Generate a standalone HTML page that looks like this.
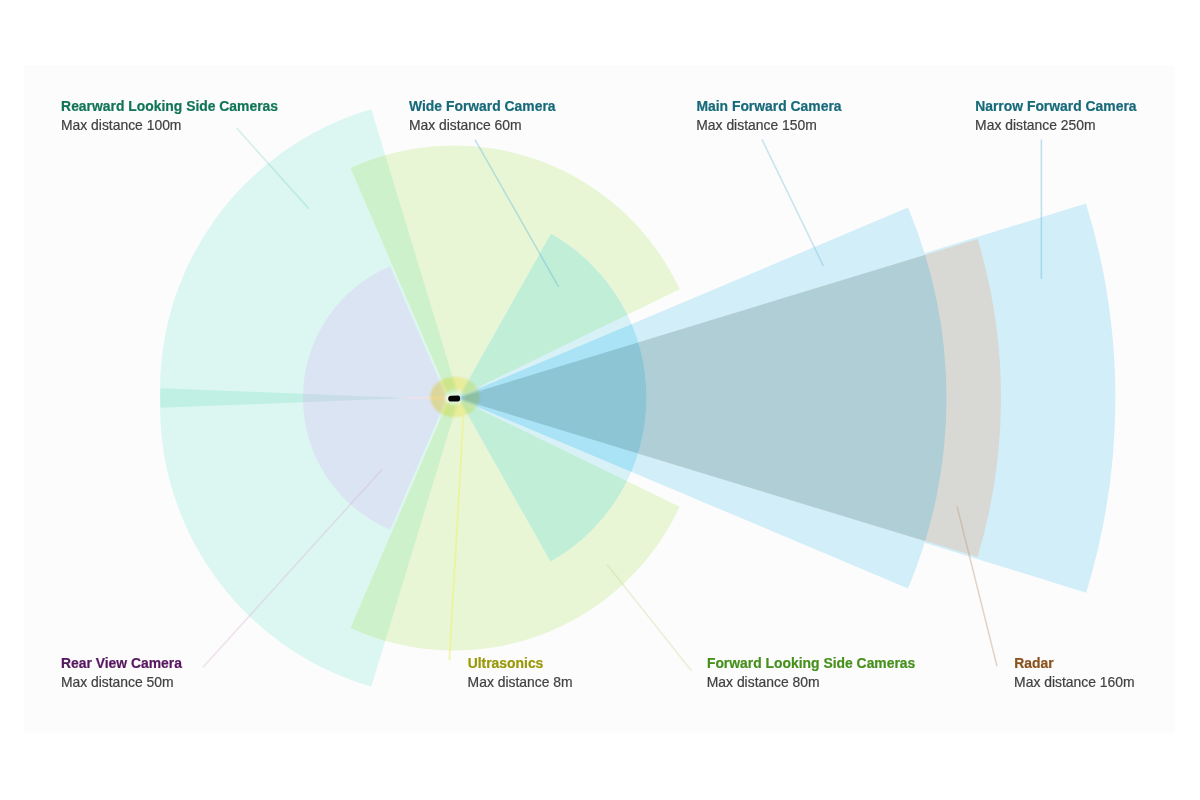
<!DOCTYPE html>
<html><head><meta charset="utf-8"><style>
html,body{margin:0;padding:0;background:#fff;width:1200px;height:800px;overflow:hidden}
svg{display:block}
.t{font-family:"Liberation Sans",sans-serif;font-weight:bold;font-size:13.9px;stroke-width:0.2px}
.s{font-family:"Liberation Sans",sans-serif;font-size:13.9px;fill:#404040;stroke:#404040;stroke-width:0.2px}
</style></head><body>
<svg width="1200" height="800" viewBox="0 0 1200 800">
<defs>
<filter id="blur" x="-10%" y="-10%" width="120%" height="120%"><feGaussianBlur stdDeviation="0.45"/></filter>
<filter id="soft" x="0" y="0" width="100%" height="100%"><feGaussianBlur stdDeviation="0.4"/></filter>
<filter id="blur3" x="-20%" y="-20%" width="140%" height="140%"><feGaussianBlur stdDeviation="1.2"/></filter>
<filter id="blur2" x="-50%" y="-50%" width="200%" height="200%"><feGaussianBlur stdDeviation="1.5"/></filter>
<linearGradient id="ray" x1="395" y1="0" x2="447" y2="0" gradientUnits="userSpaceOnUse">
<stop offset="0" stop-color="#f4e4ea" stop-opacity="0"/><stop offset="0.4" stop-color="#f6e2e6" stop-opacity="0.9"/><stop offset="1" stop-color="#f8e0d0"/></linearGradient>
<linearGradient id="ugl" x1="0" y1="0" x2="1" y2="0">
<stop offset="0" stop-color="#fff09c"/><stop offset="0.4" stop-color="#fff4b0"/><stop offset="1" stop-color="#fff8c6"/></linearGradient>
<radialGradient id="ugm" cx="0.5" cy="0.5" r="0.5">
<stop offset="0" stop-color="#000"/><stop offset="0.28" stop-color="#000"/><stop offset="0.45" stop-color="#fff"/><stop offset="1" stop-color="#fff"/></radialGradient>
<mask id="umask" maskUnits="userSpaceOnUse" x="420" y="370" width="70" height="55"><ellipse cx="455" cy="397" rx="25" ry="20.5" fill="url(#ugm)"/></mask>
<radialGradient id="ug" cx="0.5" cy="0.5" r="0.5">
<stop offset="0" stop-color="#ffffff"/>
<stop offset="0.3" stop-color="#ffffff"/>
<stop offset="0.45" stop-color="#fff8bc"/>
<stop offset="1" stop-color="#fff4aa"/>
</radialGradient>
<path id="pN" d="M456.00,398.00 L1085.96,203.41 A659.8,659.8 0 0 1 1086.13,592.64 L456.00,398.00 Z"/>
<clipPath id="cN"><path d="M456.00,398.00 L1085.96,203.41 A659.8,659.8 0 0 1 1086.13,592.64 L456.00,398.00 Z"/></clipPath>
<path id="pR" d="M456.00,398.00 L977.60,238.97 A552,552 0 0 1 977.60,557.03 L456.00,398.00 Z"/>
<clipPath id="cR"><path d="M456.00,398.00 L977.60,238.97 A552,552 0 0 1 977.60,557.03 L456.00,398.00 Z"/></clipPath>
<path id="pM" d="M456.00,398.00 L907.99,207.59 A490,490 0 0 1 907.99,588.41 L456.00,398.00 Z"/>
<clipPath id="cM"><path d="M456.00,398.00 L907.99,207.59 A490,490 0 0 1 907.99,588.41 L456.00,398.00 Z"/></clipPath>
<path id="pW" d="M458.50,398.00 L550.94,233.80 A188,188 0 0 1 550.51,561.44 L458.50,398.00 Z"/>
<clipPath id="cW"><path d="M458.50,398.00 L550.94,233.80 A188,188 0 0 1 550.51,561.44 L458.50,398.00 Z"/></clipPath>
<path id="pFu" d="M456.00,398.00 L679.71,289.35 A249,249 0 0 0 350.55,168.01 L449.50,398.00 Z"/>
<clipPath id="cFu"><path d="M456.00,398.00 L679.71,289.35 A249,249 0 0 0 350.55,168.01 L449.50,398.00 Z"/></clipPath>
<path id="pFl" d="M456.00,398.00 L679.71,506.65 A249,249 0 0 1 350.55,627.99 L449.50,398.00 Z"/>
<clipPath id="cFl"><path d="M456.00,398.00 L679.71,506.65 A249,249 0 0 1 350.55,627.99 L449.50,398.00 Z"/></clipPath>
<path id="pSu" d="M459.00,398.00 L371.33,109.36 A292,292 0 0 0 160.55,407.87 L459.00,396.00 Z"/>
<clipPath id="cSu"><path d="M459.00,398.00 L371.33,109.36 A292,292 0 0 0 160.55,407.87 L459.00,396.00 Z"/></clipPath>
<path id="pSl" d="M459.00,398.00 L371.33,686.64 A292,292 0 0 1 160.55,388.13 L459.00,400.00 Z"/>
<clipPath id="cSl"><path d="M459.00,398.00 L371.33,686.64 A292,292 0 0 1 160.55,388.13 L459.00,400.00 Z"/></clipPath>
<path id="pV" d="M447.00,398.00 L390.12,266.37 A143,143 0 0 0 390.12,529.63 L447.00,398.00 Z"/>
<clipPath id="cV"><path d="M447.00,398.00 L390.12,266.37 A143,143 0 0 0 390.12,529.63 L447.00,398.00 Z"/></clipPath>
<clipPath id="cUbig"><ellipse cx="455" cy="397" rx="29" ry="24.5"/></clipPath>
<g id="fans">
<use href="#pSu" fill="#dcf7f1"/>
<use href="#pSl" fill="#dcf7f1"/>
<use href="#pSu" fill="#c0f0e4" clip-path="url(#cSl)"/>
<use href="#pFu" fill="#e8f6d6"/>
<use href="#pFl" fill="#e8f6d6"/>
<use href="#pFu" fill="#cdf1cb" clip-path="url(#cSu)"/>
<use href="#pFl" fill="#cdf1cb" clip-path="url(#cSl)"/>
<use href="#pV" fill="#dbe4f3"/>
<g clip-path="url(#cSl)"><use href="#pV" fill="#c9dde7" clip-path="url(#cSu)"/></g>
<use href="#pW" fill="#d8f1f6"/>
<use href="#pW" fill="#c1eed7" clip-path="url(#cFu)"/>
<use href="#pW" fill="#c1eed7" clip-path="url(#cFl)"/>
<use href="#pN" fill="#d2eef9"/>
<use href="#pM" fill="#d2eef9"/>
<use href="#pR" fill="#d8d9d4"/>
<use href="#pR" fill="#b0ced5" clip-path="url(#cM)"/>
<use href="#pW" fill="#aae3f6" clip-path="url(#cM)"/>
<use href="#pW" fill="#8dc5d5" clip-path="url(#cR)"/>
</g>
</defs>
<rect x="24.5" y="65.5" width="1150" height="667" fill="#fcfcfc"/>
<use href="#fans" filter="url(#soft)"/>
<line x1="395" y1="398" x2="432" y2="398" stroke="url(#ray)" stroke-width="1.6"/>
<g clip-path="url(#cUbig)"><g filter="url(#blur3)"><use href="#fans"/><line x1="420" y1="398" x2="447" y2="398" stroke="#f8e4d4" stroke-width="1.6"/><ellipse cx="455" cy="397" rx="25" ry="20.5" fill="url(#ugl)" mask="url(#umask)" style="mix-blend-mode:multiply"/><ellipse cx="453" cy="398.6" rx="8" ry="5.5" fill="#f4fbef" opacity="0.55"/></g></g>
<g filter="url(#blur)"><line x1="236.6" y1="128" x2="308.8" y2="208.6" stroke="rgba(100,200,175,0.26)" stroke-width="1.6"/><line x1="475" y1="139.6" x2="558.6" y2="286.8" stroke="rgba(100,185,215,0.40)" stroke-width="1.6"/><line x1="761.9" y1="139.4" x2="823.4" y2="265.9" stroke="rgba(115,190,215,0.38)" stroke-width="1.6"/><line x1="1041.4" y1="139.6" x2="1041.4" y2="279" stroke="rgba(100,185,215,0.40)" stroke-width="1.6"/><line x1="203" y1="667.2" x2="382.7" y2="468.7" stroke="rgba(215,175,210,0.35)" stroke-width="1.6"/><line x1="449.4" y1="660.4" x2="463.4" y2="416.5" stroke="rgba(238,240,120,0.55)" stroke-width="2.0"/><line x1="607" y1="564.6" x2="691.6" y2="671.1" stroke="rgba(200,215,150,0.35)" stroke-width="1.6"/><line x1="957" y1="506.3" x2="997" y2="666.3" stroke="rgba(190,150,130,0.40)" stroke-width="1.6"/></g>
<path d="M451,395.8 L458,395.6 C459.5,395.6 460.1,396.6 460.1,398.6 C460.1,400.6 459.5,401.6 458,401.6 L451,401.6 C449.2,401.6 448.2,400.4 448.2,398.7 C448.2,397 449.2,395.8 451,395.8 Z" fill="#050505"/>
<g opacity="0.995">
<text x="61.1" y="110.5" class="t" fill="#107556" stroke="#107556">Rearward Looking Side Cameras</text>
<text x="61.0" y="129.6" class="s">Max distance 100m</text>
<text x="409.0" y="110.5" class="t" fill="#176a7a" stroke="#176a7a">Wide Forward Camera</text>
<text x="408.9" y="129.6" class="s">Max distance 60m</text>
<text x="696.4" y="110.5" class="t" fill="#176a7a" stroke="#176a7a">Main Forward Camera</text>
<text x="696.3" y="129.6" class="s">Max distance 150m</text>
<text x="975.2" y="110.5" class="t" fill="#176a7a" stroke="#176a7a">Narrow Forward Camera</text>
<text x="975.1" y="129.6" class="s">Max distance 250m</text>
<text x="61.0" y="667.7" class="t" fill="#561660" stroke="#561660">Rear View Camera</text>
<text x="60.9" y="686.8" class="s">Max distance 50m</text>
<text x="467.7" y="667.7" class="t" fill="#9a9808" stroke="#9a9808">Ultrasonics</text>
<text x="467.6" y="686.8" class="s">Max distance 8m</text>
<text x="706.9" y="667.7" class="t" fill="#46901c" stroke="#46901c">Forward Looking Side Cameras</text>
<text x="706.8" y="686.8" class="s">Max distance 80m</text>
<text x="1014.2" y="667.7" class="t" fill="#8a521c" stroke="#8a521c">Radar</text>
<text x="1014.1" y="686.8" class="s">Max distance 160m</text>
</g>
</svg>
</body></html>
